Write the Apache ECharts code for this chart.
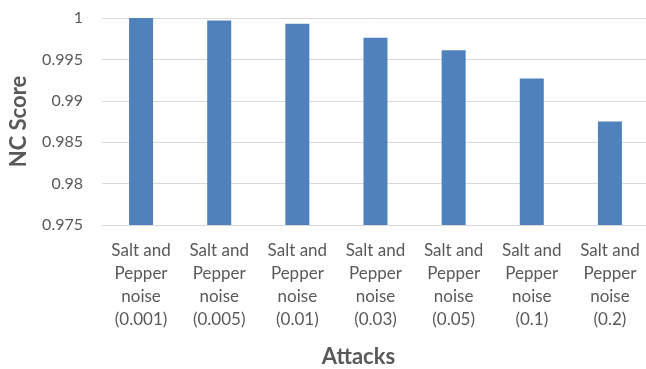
<!DOCTYPE html>
<html>
<head>
<meta charset="utf-8">
<script src="https://cdn.jsdelivr.net/npm/echarts@6/dist/echarts.min.js"></script>
<style>
  html, body { margin: 0; padding: 0; background: #fff; }
  #chart { width: 646px; height: 369px; }
</style>
</head>
<body>
<div id="chart"></div>
<script>
// NC score of the watermark under salt-and-pepper noise of increasing density
const categories = [
  'Salt and\nPepper\nnoise\n(0.001)',
  'Salt and\nPepper\nnoise\n(0.005)',
  'Salt and\nPepper\nnoise\n(0.01)',
  'Salt and\nPepper\nnoise\n(0.03)',
  'Salt and\nPepper\nnoise\n(0.05)',
  'Salt and\nPepper\nnoise\n(0.1)',
  'Salt and\nPepper\nnoise\n(0.2)'
];
const ncScores = [1.0, 0.9997, 0.9993, 0.9976, 0.9961, 0.9927, 0.9875];
const yTicks = [0.975, 0.98, 0.985, 0.99, 0.995, 1];

const chart = echarts.init(document.getElementById('chart'));
const font = 'Lato, "Open Sans", sans-serif';

chart.setOption({
  animation: false,
  textStyle: { fontFamily: font },
  grid: {
    left: 102, right: -3, top: 18, bottom: 144,
    containLabel: false,
    outerBoundsMode: 'none'
  },
  xAxis: {
    type: 'category',
    data: categories,
    name: 'Attacks',
    nameLocation: 'middle',
    nameGap: 121,
    nameTextStyle: {
      fontSize: 22, fontWeight: 'bold', color: '#595959', fontFamily: font,
      padding: [0, 34, 0, 0]
    },
    axisLine: { lineStyle: { color: '#d9d9d9', width: 1 } },
    axisTick: { show: false },
    axisLabel: {
      interval: 0,
      color: '#595959',
      fontSize: 17,
      lineHeight: 23,
      margin: 14,
      fontFamily: font
    }
  },
  yAxis: {
    type: 'value',
    min: yTicks[0],
    max: yTicks[yTicks.length - 1],
    interval: 0.005,
    name: 'NC Score',
    nameLocation: 'middle',
    nameGap: 72,
    nameTextStyle: { fontSize: 22, fontWeight: 'bold', color: '#595959', fontFamily: font },
    axisLine: { show: false },
    axisTick: { show: false },
    axisLabel: {
      color: '#595959',
      fontSize: 16,
      margin: 19,
      fontFamily: font,
      formatter: v => String(parseFloat(v.toFixed(3)))
    },
    splitLine: { lineStyle: { color: '#d9d9d9', width: 1 } }
  },
  series: [{
    type: 'bar',
    data: ncScores,
    barWidth: 24,
    itemStyle: { color: '#4f81bd' }
  }]
});
</script>
</body>
</html>
